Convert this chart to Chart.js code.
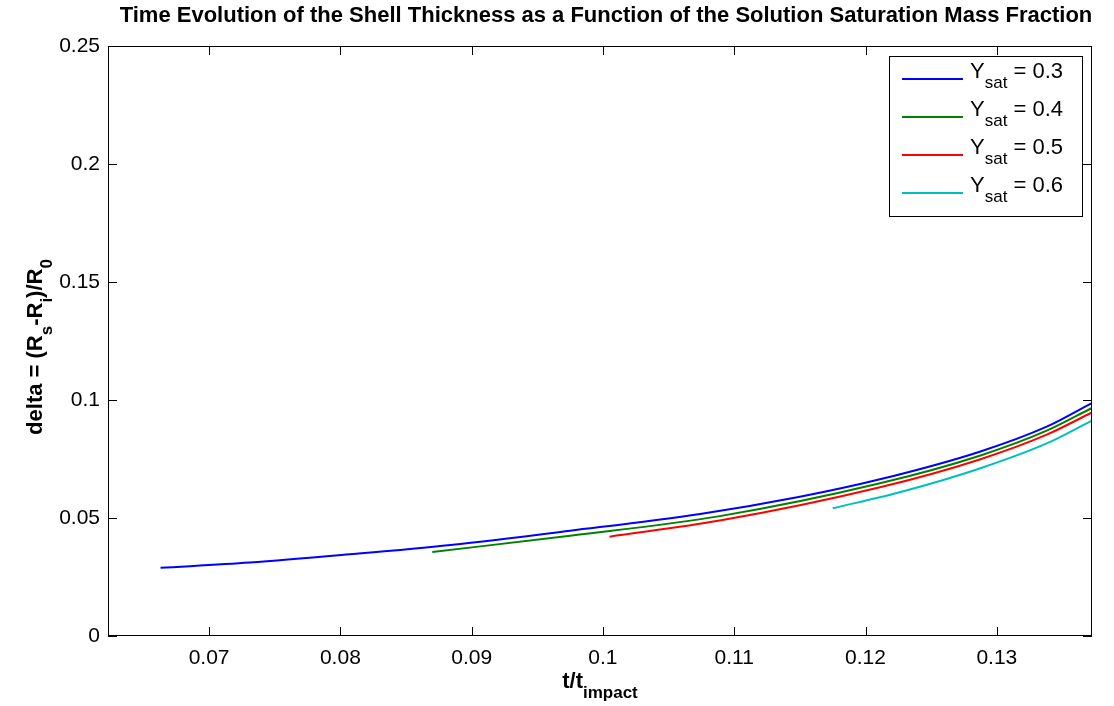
<!DOCTYPE html>
<html lang="en">
<head>
    <meta charset="UTF-8">
    <title>Shell Thickness vs Time</title>
    <script src="https://cdn.jsdelivr.net/npm/chart.js"></script>
    <style>
        body {
            margin: 0;
            background: #ffffff;
        }
        .wrap {
            width: 1114px;
            height: 706px;
        }
    </style>
</head>
<body>
    <div class="wrap">
        <canvas id="shellChart" width="1114" height="706"></canvas>
    </div>

<script>
    // t / t_impact and delta for each saturation mass fraction
    const tY03 = [0.0663, 0.0731, 0.0807, 0.0884, 0.0975, 0.1074, 0.1150, 0.1211, 0.1287, 0.1338, 0.1372];
    const dY03 = [0.0289, 0.0311, 0.0346, 0.0386, 0.0446, 0.0517, 0.0590, 0.0664, 0.0781, 0.0887, 0.0986];

    const tY04 = [0.0870, 0.0975, 0.1089, 0.1211, 0.1287, 0.1338, 0.1372];
    const dY04 = [0.0356, 0.0425, 0.0508, 0.0647, 0.0764, 0.0870, 0.0965];

    const tY05 = [0.1005, 0.1089, 0.1211, 0.1287, 0.1338, 0.1372];
    const dY05 = [0.0421, 0.0489, 0.0630, 0.0748, 0.0853, 0.0946];

    const tY06 = [0.1175, 0.1226, 0.1287, 0.1338, 0.1372];
    const dY06 = [0.0541, 0.0609, 0.0710, 0.0816, 0.0912];

    const ySat = ['0.3', '0.4', '0.5', '0.6'];
    const lineColors = ['#0000ff', '#008000', '#ff0000', '#00bfbf'];

    const xTicks = [0.07, 0.08, 0.09, 0.1, 0.11, 0.12, 0.13];
    const xTickLabels = ['0.07', '0.08', '0.09', '0.1', '0.11', '0.12', '0.13'];
    const yTicks = [0, 0.05, 0.1, 0.15, 0.2, 0.25];
    const yTickLabels = ['0', '0.05', '0.1', '0.15', '0.2', '0.25'];

    const FONT = "'Liberation Sans', Arial, Helvetica, sans-serif";

    function pts(ts, ds) {
        return ts.map((t, i) => ({ x: t, y: ds[i] }));
    }

    // text with subscript pieces, laid out left to right
    function richText(ctx, parts, x, y, size, bold, align) {
        const w = bold ? 'bold ' : '';
        const subSize = Math.round(size * 0.76);
        let total = 0;
        parts.forEach(p => {
            ctx.font = w + (p.sub ? subSize : size) + 'px ' + FONT;
            total += ctx.measureText(p.t).width;
        });
        let cx = align === 'center' ? x - total / 2 : x;
        ctx.textAlign = 'left';
        ctx.textBaseline = 'alphabetic';
        parts.forEach(p => {
            ctx.font = w + (p.sub ? subSize : size) + 'px ' + FONT;
            ctx.fillText(p.t, cx, p.sub ? y + size * 0.45 : y);
            cx += ctx.measureText(p.t).width;
        });
    }

    const matlabFrame = {
        id: 'matlabFrame',
        afterDraw(chart) {
            const { ctx, chartArea: a, scales } = chart;
            ctx.save();
            ctx.fillStyle = '#000';
            ctx.strokeStyle = '#000';
            ctx.lineWidth = 1;

            // axes box
            ctx.strokeRect(a.left + 0.5, a.top + 0.5, a.right - a.left - 1, a.bottom - a.top - 1);

            // inward tick marks on all four sides
            const tl = 9;
            ctx.beginPath();
            xTicks.forEach(v => {
                const px = Math.round(scales.x.getPixelForValue(v)) + 0.5;
                ctx.moveTo(px, a.bottom);
                ctx.lineTo(px, a.bottom - tl);
                ctx.moveTo(px, a.top);
                ctx.lineTo(px, a.top + tl);
            });
            yTicks.forEach(v => {
                const py = Math.round(scales.y.getPixelForValue(v)) + 0.5;
                ctx.moveTo(a.left, py);
                ctx.lineTo(a.left + tl, py);
                ctx.moveTo(a.right, py);
                ctx.lineTo(a.right - tl, py);
            });
            ctx.stroke();

            // title
            ctx.font = 'bold 22px ' + FONT;
            ctx.textAlign = 'center';
            ctx.textBaseline = 'alphabetic';
            ctx.fillText('Time Evolution of the Shell Thickness as a Function of the Solution Saturation Mass Fraction',
                (a.left + a.right) / 2 + 6, 22);

            // x axis label
            richText(ctx, [{ t: 't/t' }, { t: 'impact', sub: true }], (a.left + a.right) / 2, 688, 22, true, 'center');

            // y axis label, rotated
            ctx.save();
            ctx.translate(42, (a.top + a.bottom) / 2 + 6);
            ctx.rotate(-Math.PI / 2);
            richText(ctx, [{ t: 'delta = (R' }, { t: 's', sub: true }, { t: '-R' }, { t: 'i', sub: true },
                { t: ')/R' }, { t: '0', sub: true }], 0, 0, 22, true, 'center');
            ctx.restore();

            // legend
            const bx = 889, by = 56, bw = 193, bh = 160;
            ctx.fillStyle = '#fff';
            ctx.fillRect(bx, by, bw, bh);
            ctx.strokeRect(bx + 0.5, by + 0.5, bw, bh);
            ySat.forEach((s, i) => {
                const ly = 79 + 38 * i;
                ctx.strokeStyle = lineColors[i];
                ctx.lineWidth = 2;
                ctx.beginPath();
                ctx.moveTo(902, ly);
                ctx.lineTo(963, ly);
                ctx.stroke();
                ctx.fillStyle = '#000';
                richText(ctx, [{ t: 'Y' }, { t: 'sat', sub: true }, { t: ' = ' + s }], 970, ly - 1, 22, false, 'left');
            });
            ctx.restore();
        }
    };

    const series = [[tY03, dY03], [tY04, dY04], [tY05, dY05], [tY06, dY06]];

    new Chart(document.getElementById('shellChart'), {
        type: 'scatter',
        data: {
            datasets: series.map((s, i) => ({
                label: 'Y_sat = ' + ySat[i],
                data: pts(s[0], s[1]),
                showLine: true,
                borderColor: lineColors[i],
                backgroundColor: lineColors[i],
                borderWidth: 2,
                pointRadius: 0,
                cubicInterpolationMode: 'monotone'
            }))
        },
        options: {
            responsive: false,
            animation: false,
            layout: { padding: { top: 46, right: 22, left: 0, bottom: 0 } },
            plugins: {
                legend: { display: false },
                title: { display: false },
                tooltip: { enabled: false }
            },
            scales: {
                x: {
                    type: 'linear',
                    min: 0.0623,
                    max: 0.13725,
                    grid: { display: false, drawTicks: false },
                    border: { display: false },
                    afterBuildTicks: s => { s.ticks = xTicks.map(v => ({ value: v })); },
                    afterFit: s => { s.height = 70; },
                    ticks: {
                        padding: 10,
                        color: '#000',
                        font: { family: FONT, size: 21 },
                        callback: (v, i) => xTickLabels[i]
                    }
                },
                y: {
                    type: 'linear',
                    min: 0,
                    max: 0.25,
                    grid: { display: false, drawTicks: false },
                    border: { display: false },
                    afterBuildTicks: s => { s.ticks = yTicks.map(v => ({ value: v })); },
                    afterFit: s => { s.width = 108; },
                    ticks: {
                        padding: 8,
                        color: '#000',
                        font: { family: FONT, size: 21 },
                        callback: (v, i) => yTickLabels[i]
                    }
                }
            }
        },
        plugins: [matlabFrame]
    });
</script>
</body>
</html>
